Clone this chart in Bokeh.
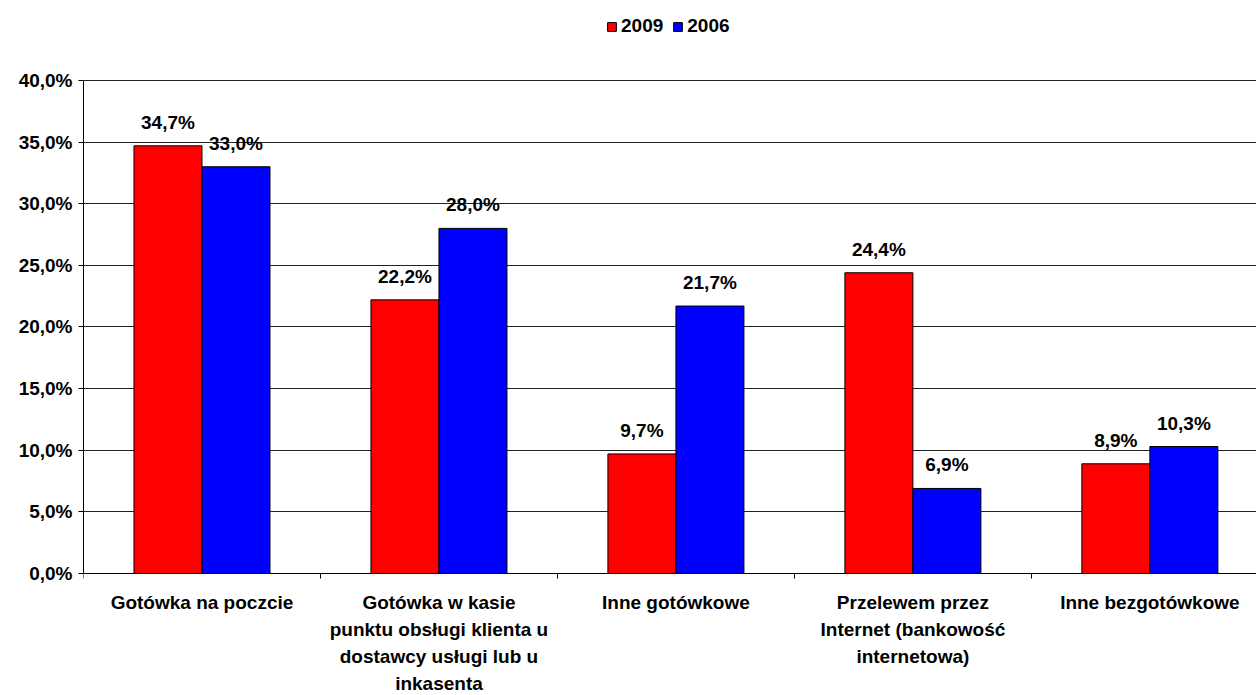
from bokeh.plotting import figure
from bokeh.models import ColumnDataSource, Range1d, FixedTicker, LabelSet, Legend, LegendItem
from bokeh.core.properties import value
from bokeh.embed import file_html
from bokeh.resources import INLINE

# ---------------- data ----------------
categories = [
    "Gotówka na poczcie",
    "Gotówka w kasie\npunktu obsługi klienta u\ndostawcy usługi lub u\ninkasenta",
    "Inne gotówkowe",
    "Przelewem przez\nInternet (bankowość\ninternetowa)",
    "Inne bezgotówkowe",
]
series_names = ["2009", "2006"]
values_2009 = [34.7, 22.2, 9.7, 24.4, 8.9]
values_2006 = [33.0, 28.0, 21.7, 6.9, 10.3]
series_colors = ["#FF0000", "#0000FF"]
y_ticks = [0, 5, 10, 15, 20, 25, 30, 35, 40]
y_tick_labels = ["0,0%", "5,0%", "10,0%", "15,0%", "20,0%", "25,0%", "30,0%", "35,0%", "40,0%"]

# ---------------- style ----------------
FONT = "Liberation Sans"
FS = "19px"
BAR_W = 0.287
LINE_STEP = 27      # px between category label lines
FIRST_LINE = 29     # px from axis to first line centre

def fmt(v):
    return f"{v:.1f}".replace(".", ",") + "%"

n = len(categories)
idx = list(range(n))

p = figure(
    width=1256, height=695,
    x_range=Range1d(0, 4.95), y_range=Range1d(-9.9, 46.49),
    output_backend="svg", toolbar_location=None,
    min_border_left=83, min_border_right=0, min_border_top=0, min_border_bottom=0,
)
p.outline_line_color = None
p.background_fill_color = "white"
p.border_fill_color = "white"

renderers = []
for s, (name, vals, col) in enumerate(zip(series_names, [values_2009, values_2006], series_colors)):
    xs = [i + 0.5 + (s - 0.5) * BAR_W for i in idx]
    src = ColumnDataSource(dict(x=xs, top=vals, lab=[fmt(v) for v in vals]))
    r = p.vbar(x="x", top="top", width=BAR_W, bottom=0, source=src,
               fill_color=col, line_color="black", line_width=1)
    renderers.append(r)
    p.add_layout(LabelSet(x="x", y="top", text="lab", source=src,
                          text_align="center", text_baseline="bottom", y_offset=13,
                          text_font=value(FONT), text_font_style="bold", text_font_size=FS,
                          text_color="black"))

# category labels below the axis, one entry per wrapped line (each line centred)
cx, cy, ctext, coff = [], [], [], []
for i, cat in zip(idx, categories):
    for k, line in enumerate(cat.split("\n")):
        cx.append(i + 0.5)
        cy.append(0)
        ctext.append(line)
        coff.append(-(FIRST_LINE + k * LINE_STEP))
cat_src = ColumnDataSource(dict(x=cx, y=cy, lab=ctext, yo=coff))
p.add_layout(LabelSet(x="x", y="y", text="lab", source=cat_src, y_offset="yo",
                      text_align="center", text_baseline="middle",
                      text_font=value(FONT), text_font_style="bold", text_font_size=FS,
                      text_color="black"))

# axes
p.yaxis.bounds = (0, 40)
p.yaxis.ticker = FixedTicker(ticks=y_ticks)
p.yaxis.major_label_overrides = {t: l for t, l in zip(y_ticks, y_tick_labels)}
p.yaxis.major_label_text_font = FONT
p.yaxis.major_label_text_font_style = "bold"
p.yaxis.major_label_text_font_size = FS
p.yaxis.major_label_text_color = "black"
p.yaxis.axis_line_color = "black"
p.yaxis.major_tick_line_color = "black"
p.yaxis.major_tick_out = 5
p.yaxis.major_tick_in = 0
p.yaxis.minor_tick_line_color = None
p.yaxis.major_label_standoff = 6

p.xaxis.fixed_location = 0
p.xaxis.ticker = FixedTicker(ticks=idx)
p.xaxis.major_label_overrides = {i: "" for i in idx}
p.xaxis.axis_line_color = "black"
p.xaxis.major_tick_line_color = "black"
p.xaxis.major_tick_out = 5
p.xaxis.major_tick_in = 0
p.xaxis.minor_tick_line_color = None

p.xgrid.grid_line_color = None
p.ygrid.ticker = FixedTicker(ticks=y_ticks)
p.ygrid.grid_line_color = "#222222"
p.ygrid.grid_line_width = 1

legend = Legend(
    items=[LegendItem(label=nm, renderers=[r]) for nm, r in zip(series_names, renderers)],
    orientation="horizontal", location=(523, 658),
    label_text_font=FONT, label_text_font_style="bold", label_text_font_size=FS,
    label_text_color="black",
    glyph_width=11, glyph_height=11, label_standoff=4, spacing=9,
    padding=0, margin=0, border_line_color=None, background_fill_alpha=0,
)
p.add_layout(legend)

open("out.html", "w").write(file_html(p, INLINE))
